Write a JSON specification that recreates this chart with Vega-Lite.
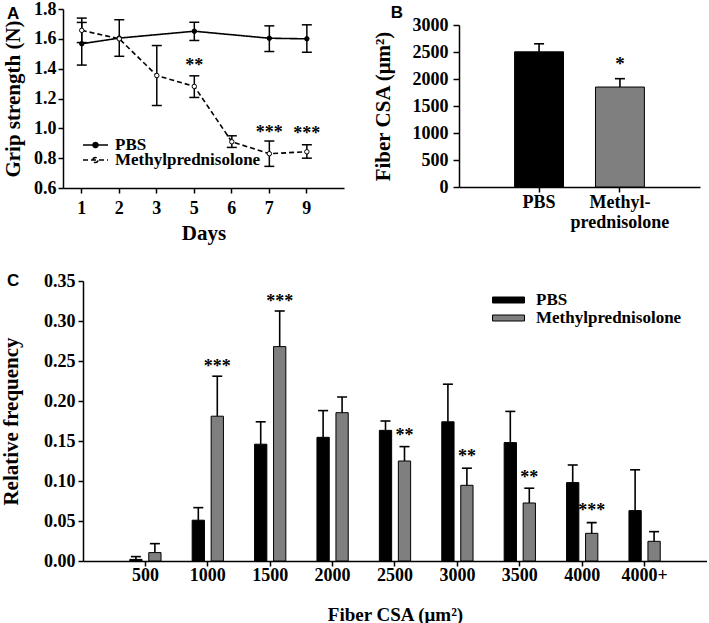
{
  "$schema": "https://vega.github.io/schema/vega-lite/v6.json",
  "padding": {"left": 0, "top": 0, "right": 0, "bottom": 0},
  "config": {
    "font": "Liberation Serif",
    "view": {"stroke": null},
    "axis": {
      "labelFont": "Liberation Serif", "labelFontWeight": "bold", "labelFontSize": 18, "labelColor": "black",
      "titleFont": "Liberation Serif", "titleFontWeight": "bold", "titleFontSize": 21, "titleColor": "black",
      "domainColor": "black", "domainWidth": 1.5, "tickColor": "black", "tickWidth": 1.5, "tickSize": 5,
      "grid": false, "labelPadding": 2, "labelOverlap": false
    },
    "legend": {
      "labelFont": "Liberation Serif", "labelFontWeight": "bold", "labelFontSize": 17, "labelColor": "black",
      "title": null
    },
    "title": {"font": "Liberation Sans", "fontWeight": "bold", "fontSize": 17, "color": "black", "anchor": "start", "frame": "group"}
  },
  "resolve": {"scale": {"fill": "independent", "strokeDash": "independent"}, "legend": {"fill": "independent", "strokeDash": "independent"}},
  "spacing": 29,
  "align": "none",
  "vconcat": [
    {
      "spacing": 8,
      "align": "none",
      "resolve": {"scale": {"fill": "independent", "strokeDash": "independent"}, "legend": {"fill": "independent", "strokeDash": "independent"}},
      "hconcat": [
        {
          "width": 261, "height": 179,
          "title": {"text": "A", "dx": -76, "dy": 23, "offset": 0},
          "data": {"values": [
            {"day": "1", "group": "PBS", "mean": 1.567, "lo": 1.424, "hi": 1.71},
            {"day": "2", "group": "PBS", "mean": 1.605, "lo": 1.483, "hi": 1.728},
            {"day": "5", "group": "PBS", "mean": 1.651, "lo": 1.589, "hi": 1.711},
            {"day": "7", "group": "PBS", "mean": 1.604, "lo": 1.515, "hi": 1.687},
            {"day": "9", "group": "PBS", "mean": 1.6, "lo": 1.51, "hi": 1.694},
            {"day": "1", "group": "Methylprednisolone", "mean": 1.657, "lo": 1.575, "hi": 1.739},
            {"day": "2", "group": "Methylprednisolone", "mean": 1.6, "lo": null, "hi": null},
            {"day": "3", "group": "Methylprednisolone", "mean": 1.354, "lo": 1.153, "hi": 1.555},
            {"day": "5", "group": "Methylprednisolone", "mean": 1.281, "lo": 1.207, "hi": 1.352},
            {"day": "6", "group": "Methylprednisolone", "mean": 0.91, "lo": 0.872, "hi": 0.95},
            {"day": "7", "group": "Methylprednisolone", "mean": 0.83, "lo": 0.745, "hi": 0.915},
            {"day": "9", "group": "Methylprednisolone", "mean": 0.843, "lo": 0.8, "hi": 0.89}
          ]},
          "encoding": {
            "x": {"field": "day", "type": "ordinal", "sort": ["1", "2", "3", "5", "6", "7", "9"],
              "scale": {"type": "band", "paddingInner": 0, "paddingOuter": 0.245, "align": 0, "range": [-20, 261]},
              "axis": {"labelAngle": 0, "title": "Days", "labelPadding": 6, "titlePadding": 5}}
          },
          "layer": [
            {
              "mark": {"type": "line", "strokeWidth": 1.6, "color": "black"},
              "encoding": {
                "y": {"field": "mean", "type": "quantitative", "scale": {"domain": [0.6, 1.8]},
                  "axis": {"title": "Grip strength (N)", "offset": 20, "values": [0.6, 0.8, 1.0, 1.2, 1.4, 1.6, 1.8], "tickCount": 20, "format": ".1f", "titlePadding": 10, "labelOverlap": false}},
                "strokeDash": {"field": "group", "type": "nominal",
                  "scale": {"domain": ["PBS", "Methylprednisolone"], "range": [[1, 0], [5, 3]]},
                  "legend": {"orient": "none", "legendX": -1, "legendY": 129, "symbolType": "M-1,0H1M-0.2,0A0.2,0.2,0,1,1,0.2,0A0.2,0.2,0,1,1,-0.2,0Z",
                    "symbolSize": 625, "symbolStrokeColor": "black", "symbolStrokeWidth": 1.5, "clipHeight": 14, "rowPadding": -4, "labelOffset": 6,
                    "encode": {"symbols": {"update": {"fill": {"signal": "datum.value === 'PBS' ? 'black' : 'white'"}, "stroke": {"value": "black"}}}}}
                }
              }
            },
            {
              "mark": {"type": "rule", "strokeWidth": 1.5, "color": "black"},
              "encoding": {"y": {"field": "lo", "type": "quantitative"}, "y2": {"field": "hi"}}
            },
            {
              "mark": {"type": "tick", "size": 10, "thickness": 1.5, "color": "black", "opacity": 1},
              "encoding": {"y": {"field": "lo", "type": "quantitative"}}
            },
            {
              "mark": {"type": "tick", "size": 10, "thickness": 1.5, "color": "black", "opacity": 1},
              "encoding": {"y": {"field": "hi", "type": "quantitative"}}
            },
            {
              "mark": {"type": "point", "filled": false, "size": 20, "stroke": "black", "strokeWidth": 1, "opacity": 1},
              "encoding": {
                "y": {"field": "mean", "type": "quantitative"},
                "fill": {"field": "group", "type": "nominal", "scale": {"domain": ["PBS", "Methylprednisolone"], "range": ["black", "white"]}, "legend": null}
              }
            },
            {
              "data": {"values": [
                {"day": "5", "star": "**", "y": 1.437},
                {"day": "7", "star": "***", "y": 0.99},
                {"day": "9", "star": "***", "y": 0.979}
              ]},
              "mark": {"type": "text", "font": "Liberation Serif", "fontWeight": "bold", "fontSize": 18, "baseline": "alphabetic", "dy": 8, "color": "black"},
              "encoding": {"y": {"field": "y", "type": "quantitative"}, "text": {"field": "star"}}
            }
          ]
        },
        {
          "spacing": -5,
          "vconcat": [
            {
              "width": 10, "height": 8,
              "data": {"values": [{"t": "B"}]},
              "mark": {"type": "text", "font": "Liberation Sans", "fontWeight": "bold", "fontSize": 17, "baseline": "middle", "align": "center", "dx": -67, "color": "black"},
              "encoding": {"text": {"field": "t"}}
            },
            {
              "width": 241, "height": 162,
              "data": {"values": [
                {"group": "PBS", "mean": 2503, "hi": 2652},
                {"group": "Methylprednisolone", "mean": 1851, "hi": 2006}
              ]},
              "encoding": {
                "x": {"field": "group", "type": "nominal", "sort": ["PBS", "Methylprednisolone"],
                  "scale": {"type": "band", "paddingInner": 0.395, "paddingOuter": 0.6875, "align": 0.5},
                  "axis": {"labelAngle": 0, "title": null, "labelPadding": 1, "labelLineHeight": 20,
                    "labelExpr": "datum.value == 'PBS' ? 'PBS' : ['Methyl-', 'prednisolone']"}}
              },
              "layer": [
                {
                  "mark": {"type": "bar", "stroke": "black", "strokeWidth": 1},
                  "encoding": {
                    "y": {"field": "mean", "type": "quantitative", "scale": {"domain": [0, 3000]},
                      "axis": {"title": "Fiber CSA (μm²)", "values": [0, 500, 1000, 1500, 2000, 2500, 3000], "tickCount": 20, "format": "d", "tickSize": 6, "labelPadding": 5, "titlePadding": 19, "labelOverlap": false}},
                    "fill": {"field": "group", "type": "nominal", "scale": {"domain": ["PBS", "Methylprednisolone"], "range": ["black", "#7f7f7f"]}, "legend": null}
                  }
                },
                {
                  "mark": {"type": "rule", "strokeWidth": 1.6, "color": "black"},
                  "encoding": {"y": {"field": "mean", "type": "quantitative"}, "y2": {"field": "hi"}}
                },
                {
                  "mark": {"type": "tick", "size": 10, "thickness": 1.6, "color": "black", "opacity": 1},
                  "encoding": {"y": {"field": "hi", "type": "quantitative"}}
                },
                {
                  "data": {"values": [{"group": "Methylprednisolone", "star": "*", "y": 2329}]},
                  "mark": {"type": "text", "font": "Liberation Serif", "fontWeight": "bold", "fontSize": 19, "baseline": "alphabetic", "dy": 9, "color": "black"},
                  "encoding": {"y": {"field": "y", "type": "quantitative"}, "text": {"field": "star"}}
                }
              ]
            }
          ]
        }
      ]
    },
    {
      "width": 624, "height": 280,
      "title": {"text": "C", "dx": -76, "dy": 18, "offset": 0},
      "data": {"values": [
        {"bin": "500", "group": "PBS", "mean": 0.002, "hi": 0.0055},
        {"bin": "1000", "group": "PBS", "mean": 0.051, "hi": 0.0667},
        {"bin": "1500", "group": "PBS", "mean": 0.146, "hi": 0.174},
        {"bin": "2000", "group": "PBS", "mean": 0.1546, "hi": 0.188},
        {"bin": "2500", "group": "PBS", "mean": 0.1633, "hi": 0.175},
        {"bin": "3000", "group": "PBS", "mean": 0.174, "hi": 0.221},
        {"bin": "3500", "group": "PBS", "mean": 0.148, "hi": 0.187},
        {"bin": "4000", "group": "PBS", "mean": 0.098, "hi": 0.12},
        {"bin": "4000+", "group": "PBS", "mean": 0.063, "hi": 0.114},
        {"bin": "500", "group": "Methylprednisolone", "mean": 0.0105, "hi": 0.0217},
        {"bin": "1000", "group": "Methylprednisolone", "mean": 0.181, "hi": 0.231},
        {"bin": "1500", "group": "Methylprednisolone", "mean": 0.268, "hi": 0.3125},
        {"bin": "2000", "group": "Methylprednisolone", "mean": 0.1854, "hi": 0.205},
        {"bin": "2500", "group": "Methylprednisolone", "mean": 0.125, "hi": 0.143},
        {"bin": "3000", "group": "Methylprednisolone", "mean": 0.0946, "hi": 0.116},
        {"bin": "3500", "group": "Methylprednisolone", "mean": 0.0725, "hi": 0.091},
        {"bin": "4000", "group": "Methylprednisolone", "mean": 0.0346, "hi": 0.048},
        {"bin": "4000+", "group": "Methylprednisolone", "mean": 0.0246, "hi": 0.0367}
      ]},
      "encoding": {
        "x": {"field": "bin", "type": "nominal", "sort": ["500", "1000", "1500", "2000", "2500", "3000", "3500", "4000", "4000+"],
          "scale": {"type": "band", "paddingInner": 0, "paddingOuter": 0.5},
          "axis": {"labelAngle": 0, "title": "Fiber CSA (μm²)", "titleFontSize": 19, "labelPadding": 0, "titlePadding": 21}},
        "xOffset": {"field": "group", "type": "nominal", "sort": ["PBS", "Methylprednisolone"],
          "scale": {"domain": ["PBS", "Methylprednisolone"], "paddingInner": 0.353, "paddingOuter": 0.82}}
      },
      "layer": [
        {
          "mark": {"type": "bar", "stroke": "black", "strokeWidth": 1},
          "encoding": {
            "y": {"field": "mean", "type": "quantitative", "scale": {"domain": [0, 0.35]},
              "axis": {"title": "Relative frequency", "values": [0, 0.05, 0.1, 0.15, 0.2, 0.25, 0.3, 0.35], "tickCount": 20, "format": ".2f", "labelPadding": 3, "titlePadding": 22, "labelOverlap": false}},
            "fill": {"field": "group", "type": "nominal", "scale": {"domain": ["PBS", "Methylprednisolone"], "range": ["black", "#7f7f7f"]},
              "legend": {"orient": "none", "legendX": 409, "legendY": 10, "symbolType": "M-1,-0.1875H1V0.1875H-1Z", "symbolSize": 1024,
                "symbolStrokeColor": "black", "symbolStrokeWidth": 1, "clipHeight": 18, "rowPadding": 0, "labelOffset": 11}}
          }
        },
        {
          "mark": {"type": "rule", "strokeWidth": 1.6, "color": "black"},
          "encoding": {"y": {"field": "mean", "type": "quantitative"}, "y2": {"field": "hi"}}
        },
        {
          "mark": {"type": "tick", "size": 10, "thickness": 1.6, "color": "black", "opacity": 1},
          "encoding": {"y": {"field": "hi", "type": "quantitative"}}
        },
        {
          "data": {"values": [
            {"bin": "1000", "group": "Methylprednisolone", "star": "***", "y": 0.2467},
            {"bin": "1500", "group": "Methylprednisolone", "star": "***", "y": 0.328},
            {"bin": "2500", "group": "Methylprednisolone", "star": "**", "y": 0.1596},
            {"bin": "3000", "group": "Methylprednisolone", "star": "**", "y": 0.1333},
            {"bin": "3500", "group": "Methylprednisolone", "star": "**", "y": 0.1075},
            {"bin": "4000", "group": "Methylprednisolone", "star": "***", "y": 0.0658}
          ]},
          "mark": {"type": "text", "font": "Liberation Serif", "fontWeight": "bold", "fontSize": 18, "baseline": "alphabetic", "dy": 8, "color": "black"},
          "encoding": {"y": {"field": "y", "type": "quantitative"}, "text": {"field": "star"}}
        }
      ]
    }
  ]
}
